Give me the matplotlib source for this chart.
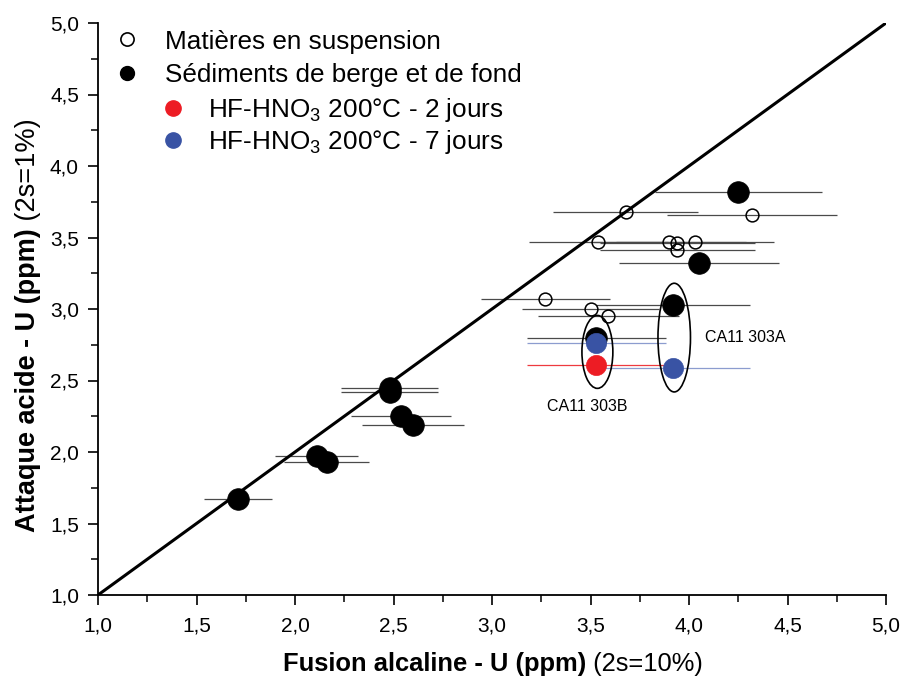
import matplotlib
matplotlib.use('Agg')
import matplotlib.pyplot as plt
from matplotlib.lines import Line2D
from matplotlib.patches import Ellipse
from matplotlib.ticker import FuncFormatter, MultipleLocator

plt.rcParams['font.family'] = ['Liberation Sans', 'DejaVu Sans']
plt.rcParams['mathtext.fontset'] = 'custom'
plt.rcParams['mathtext.rm'] = 'Liberation Sans'
plt.rcParams['mathtext.it'] = 'Liberation Sans:italic'
plt.rcParams['mathtext.bf'] = 'Liberation Sans:bold'

# ---------------- data ----------------
# Matières en suspension (open circles)
mes_x = [3.68, 4.32, 3.54, 3.90, 3.94, 3.94, 4.03, 3.27, 3.50, 3.59]
mes_y = [3.68, 3.66, 3.47, 3.47, 3.46, 3.41, 3.47, 3.07, 3.00, 2.95]
# Sédiments de berge et de fond (filled black)
sed_x = [4.25, 4.05, 3.92, 3.53, 2.48, 2.48, 2.54, 2.60, 2.11, 2.16, 1.71]
sed_y = [3.82, 3.32, 3.03, 2.80, 2.45, 2.42, 2.25, 2.19, 1.97, 1.93, 1.67]
# HF-HNO3 200°C - 2 jours
red_x = [3.53]
red_y = [2.61]
# HF-HNO3 200°C - 7 jours
blue_x = [3.53, 3.92]
blue_y = [2.76, 2.59]
# relative 2s uncertainty on x (fusion alcaline)
x_rel_err = 0.10
# 1:1 line
line_x = [1.0, 5.0]
line_y = [1.0, 5.0]
# sample labels
sample_labels = ['CA11 303A', 'CA11 303B']
legend_labels = ['Matières en suspension', 'Sédiments de berge et de fond',
                 'HF-HNO$_3$ 200°C - 2 jours', 'HF-HNO$_3$ 200°C - 7 jours']
xticks = [1.0, 1.5, 2.0, 2.5, 3.0, 3.5, 4.0, 4.5, 5.0]
yticks = [1.0, 1.5, 2.0, 2.5, 3.0, 3.5, 4.0, 4.5, 5.0]

# ---------------- figure ----------------
W, H = 902, 679
fig = plt.figure(figsize=(W / 100, H / 100), dpi=100)
ax = fig.add_axes([98 / W, (H - 595) / H, (886 - 98) / W, (595 - 23) / H])
ax.set_xlim(1, 5)
ax.set_ylim(1, 5)

ax.plot(line_x, line_y, color='black', lw=2.2, zorder=3, solid_capstyle='butt')

def xerr(v):
    return [x_rel_err * a for a in v]

ax.errorbar(mes_x, mes_y, xerr=xerr(mes_x), fmt='none', ecolor='#4a4a4a', elinewidth=0.9, zorder=1)
ax.errorbar(sed_x, sed_y, xerr=xerr(sed_x), fmt='none', ecolor='#4a4a4a', elinewidth=0.9, zorder=1)
ax.errorbar(red_x, red_y, xerr=xerr(red_x), fmt='none', ecolor='#ee3a3f', elinewidth=0.9, zorder=1)
ax.errorbar(blue_x, blue_y, xerr=xerr(blue_x), fmt='none', ecolor='#8c9ccf', elinewidth=0.9, zorder=1)

ax.plot(mes_x, mes_y, ls='none', marker='o', ms=9.2, mfc='none', mec='black', mew=1.1, zorder=4)
ax.plot(sed_x, sed_y, ls='none', marker='o', ms=15.6, mfc='black', mec='black', mew=0.5, zorder=5)
ax.plot(red_x, red_y, ls='none', marker='o', ms=14.5, mfc='#ed1c24', mec='#ed1c24', mew=0.5, zorder=6)
ax.plot(blue_x, blue_y, ls='none', marker='o', ms=14.5, mfc='#3953a4', mec='#3953a4', mew=0.5, zorder=6)

# sample groups
ax.add_patch(Ellipse((3.925, 2.80), 0.165, 0.76, fill=False, ec='black', lw=1.2, zorder=7))
ax.add_patch(Ellipse((3.535, 2.70), 0.157, 0.51, fill=False, ec='black', lw=1.2, zorder=7))
ax.text(4.08, 2.80, sample_labels[0], ha='left', va='center', fontsize=11.5)
ax.text(3.28, 2.32, sample_labels[1], ha='left', va='center', fontsize=11.5)

# axes styling
for s in ['top', 'right']:
    ax.spines[s].set_visible(False)
for s in ['left', 'bottom']:
    ax.spines[s].set_linewidth(1.3)
ax.set_xticks(xticks)
ax.set_yticks(yticks)
ax.xaxis.set_minor_locator(MultipleLocator(0.25))
ax.yaxis.set_minor_locator(MultipleLocator(0.25))
fmt = FuncFormatter(lambda v, p: f'{v:.1f}'.replace('.', ','))
ax.xaxis.set_major_formatter(fmt)
ax.yaxis.set_major_formatter(fmt)
ax.tick_params(which='major', direction='out', length=7.2, width=1.2, labelsize=15)
ax.tick_params(which='minor', direction='out', length=5, width=1.1)
ax.tick_params(axis='x', which='major', pad=8.5)
ax.tick_params(axis='y', which='major', pad=6.5)

# axis labels: bold part + regular part
tx = fig.text(283 / W, (H - 664) / H, 'Fusion alcaline - U (ppm)', ha='left', va='center',
              fontsize=18.35, fontweight='bold')
ax.annotate(' (2s=10%)', xy=(1, 0.5), xycoords=tx, ha='left', va='center', fontsize=18.35,
            annotation_clip=False)
ty = fig.text(28 / W, (H - 532) / H, 'Attaque acide - U (ppm)', ha='center', va='bottom',
              rotation=90, fontsize=19.5, fontweight='bold')
ax.annotate(' (2s=1%)', xy=(0.5, 1), xycoords=ty, ha='center', va='bottom', rotation=90,
            fontsize=19.5, annotation_clip=False)

# legend
h1 = [Line2D([], [], ls='none', marker='o', ms=9.5, mfc='white', mec='black', mew=1.2),
      Line2D([], [], ls='none', marker='o', ms=10, mfc='black', mec='black')]
h2 = [Line2D([], [], ls='none', marker='o', ms=11, mfc='#ed1c24', mec='#ed1c24'),
      Line2D([], [], ls='none', marker='o', ms=11, mfc='#3953a4', mec='#3953a4')]
leg1 = ax.legend(h1, legend_labels[:2], loc='upper left',
                 bbox_to_anchor=(114 / W, (H - 29.6) / H), bbox_transform=fig.transFigure,
                 frameon=False, fontsize=18.8, handlelength=1.0, handletextpad=0.95,
                 borderpad=0, borderaxespad=0, labelspacing=0.35)
ax.add_artist(leg1)
leg2 = ax.legend(h2, legend_labels[2:], loc='upper left',
                 bbox_to_anchor=(160 / W, (H - 96) / H), bbox_transform=fig.transFigure,
                 frameon=False, fontsize=18.8, handlelength=1.0, handletextpad=0.84,
                 borderpad=0, borderaxespad=0, labelspacing=0.17)

fig.savefig('out.png', dpi=100)
